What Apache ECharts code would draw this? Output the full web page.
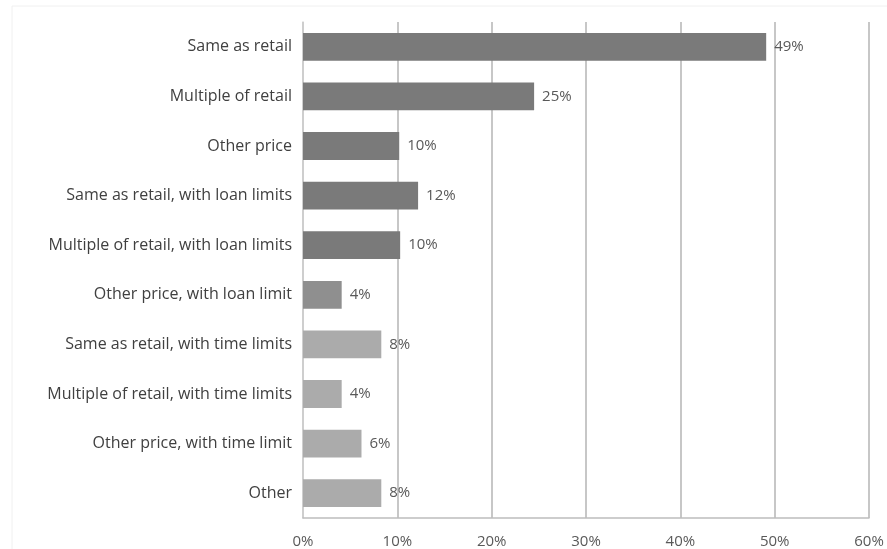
<!DOCTYPE html>
<html><head><meta charset="utf-8">
<script src="https://cdn.jsdelivr.net/npm/echarts@6/dist/echarts.min.js"></script>
<style>html,body{margin:0;padding:0;background:#fff}#c{width:887px;height:549px}</style>
</head><body><div id="c"></div>
<script>
const categories = [
  "Same as retail",
  "Multiple of retail",
  "Other price",
  "Same as retail, with loan limits",
  "Multiple of retail, with loan limits",
  "Other price, with loan limit",
  "Same as retail, with time limits",
  "Multiple of retail, with time limits",
  "Other price, with time limit",
  "Other"
];
const values = [49.1, 24.5, 10.2, 12.2, 10.3, 4.1, 8.3, 4.1, 6.2, 8.3];
const labels = ["49%", "25%", "10%", "12%", "10%", "4%", "8%", "4%", "6%", "8%"];
const groups = ["base","base","base","loan","loan","loanOther","time","time","time","other"];
const colorMap = {base:"#7a7a7a", loan:"#7a7a7a", loanOther:"#8f8f8f", time:"#ababab", other:"#ababab"};
const xTicks = [0, 10, 20, 30, 40, 50, 60];

const chart = echarts.init(document.getElementById('c'), null, {renderer:'canvas'});
const font = '"Open Sans", Lato, sans-serif';
chart.setOption({
  animation: false,
  backgroundColor: '#fff',
  graphic: [{type:'rect', shape:{x:12, y:6, width:890, height:560}, style:{fill:'none', stroke:'#f0f0f0', lineWidth:1}, silent:true}],
  grid: {left: 303, right: 18, top: 22, bottom: 28, containLabel: false},
  xAxis: {
    type: 'value', min: xTicks[0], max: xTicks[xTicks.length-1], interval: 10,
    axisLine: {show: true, lineStyle: {color: '#bdbdbd', width: 1.5}},
    axisTick: {show: false},
    axisLabel: {formatter: v => v + '%', color: '#595959', fontFamily: font, fontSize: 15, margin: 16},
    splitLine: {show: true, lineStyle: {color: '#b5b5b5', width: 1.5}}
  },
  yAxis: {
    type: 'category', data: categories, inverse: true,
    axisLine: {show: true, lineStyle: {color: '#d0d0d0', width: 1.5}},
    axisTick: {show: false},
    axisLabel: {color: '#404040', fontFamily: font, fontSize: 16, margin: 11}
  },
  series: [{
    type: 'bar',
    barCategoryGap: '44%',
    data: values.map((v, i) => ({value: v, itemStyle: {color: colorMap[groups[i]]}})),
    label: {show: true, position: 'right', distance: 8, color: '#595959', fontFamily: font, fontSize: 15,
      formatter: p => labels[p.dataIndex]}
  }]
});
</script></body></html>
